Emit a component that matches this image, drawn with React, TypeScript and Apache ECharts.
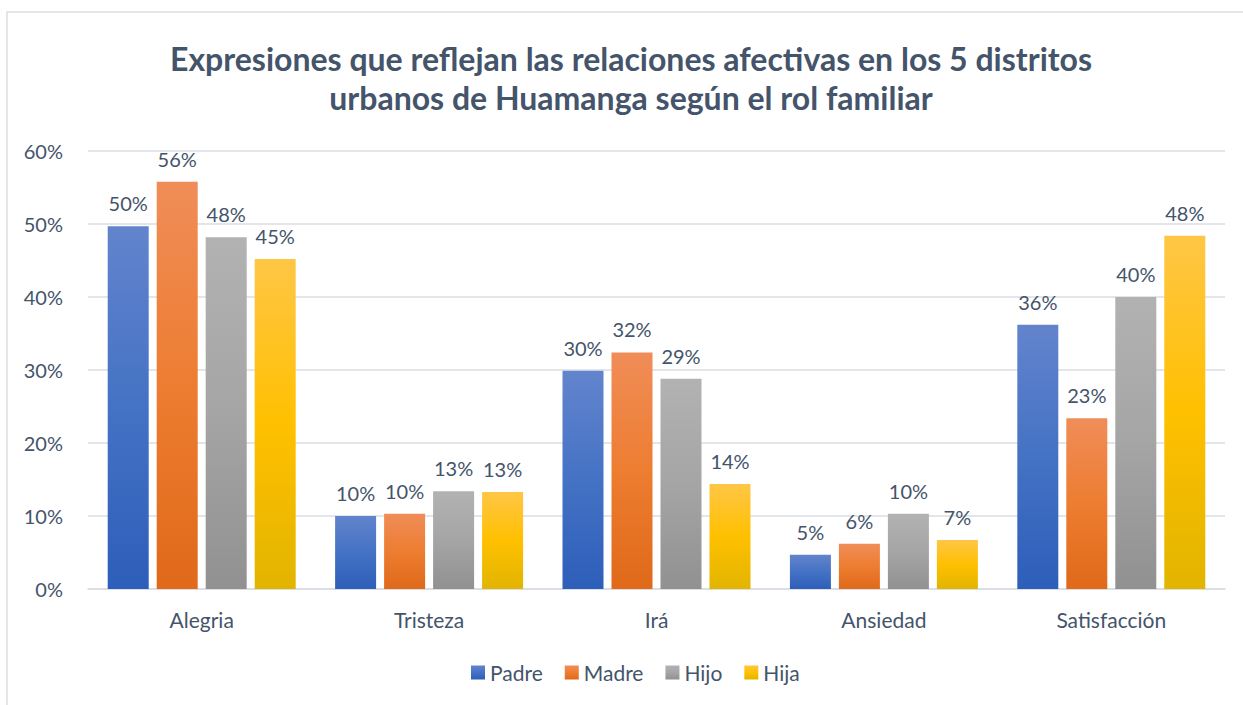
import React, { useEffect, useRef } from "react";
import * as echarts from "echarts";

const categories = ["Alegria", "Tristeza", "Irá", "Ansiedad", "Satisfacción"];
const seriesNames = ["Padre", "Madre", "Hijo", "Hija"];
const padre = [49.7, 10.0, 29.9, 4.7, 36.2];
const madre = [55.8, 10.3, 32.4, 6.2, 23.4];
const hijo = [48.2, 13.4, 28.8, 10.3, 40.0];
const hija = [45.2, 13.3, 14.4, 6.7, 48.4];
const yTicks = [0, 10, 20, 30, 40, 50, 60];

const gradients = [
  ["#6384cd", "#4472c4", "#2d5eb9"],
  ["#f08d58", "#ed7d31", "#e0691a"],
  ["#b2b2b2", "#a5a5a5", "#919191"],
  ["#ffc646", "#ffc000", "#e2b400"],
];

const textColor = "#44546a";

export default function App() {
  const ref = useRef<HTMLDivElement>(null);
  useEffect(() => {
    const chart = echarts.init(ref.current!, null, { renderer: "svg" });
    const data = [padre, madre, hijo, hija];
    chart.setOption({
      animation: false,
      backgroundColor: "#ffffff",
      textStyle: { fontFamily: "Lato, 'Open Sans', sans-serif" },
      graphic: [
        {
          type: "rect",
          shape: { x: 7, y: 12, width: 1250, height: 700 },
          style: { fill: "none", stroke: "#d9dde3", lineWidth: 1.5 },
          silent: true,
        },
      ],
      title: {
        text: "Expresiones que reflejan las relaciones afectivas en los 5 distritos\nurbanos de Huamanga según el rol familiar",
        left: 626,
        textAlign: "center",
        top: 34,
        textStyle: {
          fontFamily: "Lato, 'Open Sans', sans-serif",
          fontSize: 32,
          fontWeight: "bold",
          color: textColor,
          lineHeight: 39,
        },
      },
      legend: {
        data: seriesNames,
        left: 466,
        top: 657,
        itemWidth: 14,
        itemHeight: 14,
        itemGap: 22,
        icon: "rect",
        textStyle: { fontSize: 21, color: textColor },
      },
      grid: { left: 88, right: 18, top: 151, bottom: 116, containLabel: false },
      xAxis: {
        type: "category",
        data: categories,
        axisLine: { lineStyle: { color: "#d9dde3", width: 1.5 } },
        axisTick: { show: false },
        axisLabel: { fontSize: 21, color: textColor, margin: 20 },
      },
      yAxis: {
        type: "value",
        min: yTicks[0],
        max: yTicks[yTicks.length - 1],
        interval: 10,
        axisLine: { show: false },
        axisTick: { show: false },
        splitLine: { lineStyle: { color: "#d9dde3", width: 1.5 } },
        axisLabel: {
          fontSize: 20,
          color: textColor,
          margin: 25,
          formatter: (v: number) => v + "%",
        },
      },
      series: seriesNames.map((name, i) => ({
        name,
        type: "bar",
        data: data[i],
        barWidth: 41,
        barGap: "19.5%",
        itemStyle: {
          color: new echarts.graphic.LinearGradient(0, 0, 0, 1, [
            { offset: 0, color: gradients[i][0] },
            { offset: 0.5, color: gradients[i][1] },
            { offset: 1, color: gradients[i][2] },
          ]),
        },
        label: {
          show: true,
          position: "top",
          distance: 13,
          fontSize: 20,
          color: textColor,
          formatter: (p: any) => Math.round(p.value) + "%",
        },
      })),
    });
    return () => chart.dispose();
  }, []);
  return (
    <div
      ref={ref}
      style={{ position: "fixed", left: 0, top: 0, width: 1243, height: 705 }}
    />
  );
}
